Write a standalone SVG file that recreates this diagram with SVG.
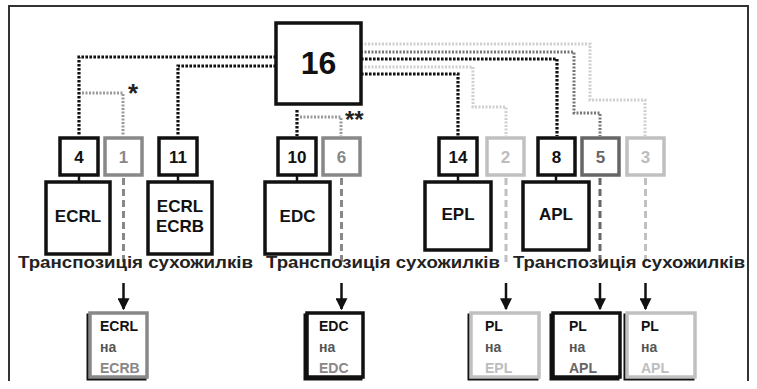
<svg xmlns="http://www.w3.org/2000/svg" width="757" height="389" viewBox="0 0 757 389">
<defs>
<marker id="ah" viewBox="0 0 10 10" refX="9" refY="5" markerWidth="12" markerHeight="12" markerUnits="userSpaceOnUse" orient="auto">
<path d="M0,0 L10,5 L0,10 Z" fill="#111"/>
</marker>
<style>
text{font-family:"Liberation Sans",Arial,sans-serif;font-weight:bold}
.box{fill:#fff;stroke-width:3.5}
.k{stroke:#111}.g{stroke:#888}.l{stroke:#c0c0c0}.d{stroke:#666}
.tk{fill:#111}.tg{fill:#888}.tl{fill:#bdbdbd}.td{fill:#666}
.num{font-size:17px;text-anchor:middle}
.big{font-size:17px;text-anchor:middle}
.sm{font-size:14px}
.dot{fill:none;stroke-width:3.2;stroke-dasharray:2.6 1.4}
.gd{fill:none;stroke-width:3;stroke-dasharray:2 1.5}
.dash{fill:none;stroke-width:3;stroke-dasharray:7 4}
.arr{stroke:#111;stroke-width:2.5;fill:none}
</style>
</defs>
<rect width="757" height="389" fill="#fff"/>
<path d="M9,381 V6 H748 V381" fill="none" stroke="#333" stroke-width="2"/>

<g id="connectors">
<path class="dot k" d="M276,57 H79 V136"/>
<path class="dot k" d="M276,66 H178 V136"/>
<path class="dot k" d="M297,110 V136"/>
<path class="dot k" d="M361,59 H557 V136"/>
<path class="dot k" d="M361,74 H458 V136"/>
<path class="gd" stroke="#999" d="M82,93 H123 V136"/>
<path class="gd" stroke="#999" d="M300,117 H341 V136"/>
<path class="gd" stroke="#cfcfcf" d="M361,44 H590 V100 H645 V136"/>
<path class="gd" stroke="#cfcfcf" d="M361,67 H473 V107 H506 V136"/>
<path class="gd" stroke="#777" d="M361,52 H574 V113 H600 V136"/>
<g stroke="#111" stroke-width="2.5">
<line x1="79" y1="175" x2="79" y2="182"/>
<line x1="178" y1="175" x2="178" y2="182"/>
<line x1="297" y1="175" x2="297" y2="182"/>
<line x1="458" y1="175" x2="458" y2="182"/>
<line x1="556" y1="175" x2="556" y2="182"/>
</g>
<path class="dash g" d="M123.5,178 V262"/>
<path class="dash g" d="M341.5,178 V262"/>
<path class="dash l" d="M506,178 V262"/>
<path class="dash d" d="M600,178 V262"/>
<path class="dash l" d="M645.5,178 V262"/>
<path class="arr" d="M123.5,283 V309" marker-end="url(#ah)"/>
<path class="arr" d="M341.5,283 V309" marker-end="url(#ah)"/>
<path class="arr" d="M506,283 V309" marker-end="url(#ah)"/>
<path class="arr" d="M600,283 V309" marker-end="url(#ah)"/>
<path class="arr" d="M645.5,283 V309" marker-end="url(#ah)"/>
<text x="128" y="102" font-size="26" fill="#222">*</text>
<text x="345" y="128" font-size="24" fill="#222">**</text>
</g>

<g id="n16"><rect class="box k" x="276" y="23" width="85" height="81"/><text x="318.5" y="74" font-size="32" text-anchor="middle" class="tk">16</text></g>

<g id="n4"><rect class="box k" x="60" y="138" width="38" height="37"/><text class="num tk" x="79" y="163">4</text></g>
<g id="n1"><rect class="box g" x="105" y="138" width="37" height="37"/><text class="num tg" x="123.5" y="163">1</text></g>
<g id="n11"><rect class="box k" x="159" y="138" width="38" height="37"/><text class="num tk" x="178" y="163">11</text></g>
<g id="n10"><rect class="box k" x="278" y="138" width="38" height="37"/><text class="num tk" x="297" y="163">10</text></g>
<g id="n6"><rect class="box g" x="323" y="138" width="37" height="37"/><text class="num tg" x="341.5" y="163">6</text></g>
<g id="n14"><rect class="box k" x="439" y="138" width="38" height="37"/><text class="num tk" x="458" y="163">14</text></g>
<g id="n2"><rect class="box l" x="487" y="138" width="37" height="37"/><text class="num tl" x="505.5" y="163">2</text></g>
<g id="n8"><rect class="box k" x="538" y="138" width="37" height="37"/><text class="num tk" x="556.5" y="163">8</text></g>
<g id="n5"><rect class="box d" x="582" y="138" width="37" height="37"/><text class="num td" x="600.5" y="163">5</text></g>
<g id="n3"><rect class="box l" x="627" y="138" width="37" height="37"/><text class="num tl" x="645.5" y="163">3</text></g>

<g id="ecrl"><rect class="box k" x="46" y="182" width="64" height="72"/><text class="big tk" x="78" y="222">ECRL</text></g>
<g id="ecrl-ecrb"><rect class="box k" x="148" y="182" width="64" height="72"/><text class="big tk" x="180" y="212">ECRL</text><text class="big tk" x="180" y="232">ECRB</text></g>
<g id="edc"><rect class="box k" x="265" y="182" width="65" height="72"/><text class="big tk" x="297.5" y="222">EDC</text></g>
<g id="epl"><rect class="box k" x="425" y="182" width="66" height="68"/><text class="big tk" x="458" y="220">EPL</text></g>
<g id="apl"><rect class="box k" x="523" y="182" width="66" height="68"/><text class="big tk" x="556" y="220">APL</text></g>

<g id="label">
<text x="18" y="268" font-size="17" textLength="235" lengthAdjust="spacingAndGlyphs" fill="#222">Транспозиція сухожилків</text>
<text x="266" y="268" font-size="17" textLength="234" lengthAdjust="spacingAndGlyphs" fill="#222">Транспозиція сухожилків</text>
<text x="513" y="268" font-size="17" textLength="232" lengthAdjust="spacingAndGlyphs" fill="#222">Транспозиція сухожилків</text>
</g>

<g id="r1"><rect x="88" y="315" width="57" height="64" fill="none" stroke="#111" stroke-width="3"/><rect class="box g" x="90" y="313" width="57" height="64" stroke-width="2.5"/>
<text class="sm tk" x="100" y="331">ECRL</text><text class="sm" fill="#555" x="100" y="352">на</text><text class="sm tg" x="100" y="373">ECRB</text></g>
<g id="r2"><rect x="305" y="315" width="56" height="64" fill="none" stroke="#111" stroke-width="3"/><rect class="box k" x="307" y="313" width="56" height="64" stroke-width="2.5"/>
<text class="sm tk" x="319" y="331">EDC</text><text class="sm" fill="#555" x="319" y="352">на</text><text class="sm tg" x="319" y="373">EDC</text></g>
<g id="r3"><rect x="469" y="315" width="68" height="64" fill="none" stroke="#111" stroke-width="3"/><rect class="box l" x="471" y="313" width="68" height="64" stroke-width="2.5"/>
<text class="sm tk" x="485" y="331">PL</text><text class="sm" fill="#555" x="485" y="352">на</text><text class="sm tl" x="485" y="373">EPL</text></g>
<g id="r4"><rect x="551" y="315" width="67" height="64" fill="none" stroke="#111" stroke-width="3"/><rect class="box k" x="553" y="313" width="67" height="64" stroke-width="2.5"/>
<text class="sm tk" x="569" y="331">PL</text><text class="sm" fill="#555" x="569" y="352">на</text><text class="sm td" x="569" y="373">APL</text></g>
<g id="r5"><rect x="625" y="315" width="68" height="64" fill="none" stroke="#111" stroke-width="3"/><rect class="box l" x="627" y="313" width="68" height="64" stroke-width="2.5"/>
<text class="sm tk" x="641" y="331">PL</text><text class="sm" fill="#555" x="641" y="352">на</text><text class="sm tl" x="641" y="373">APL</text></g>
</svg>
